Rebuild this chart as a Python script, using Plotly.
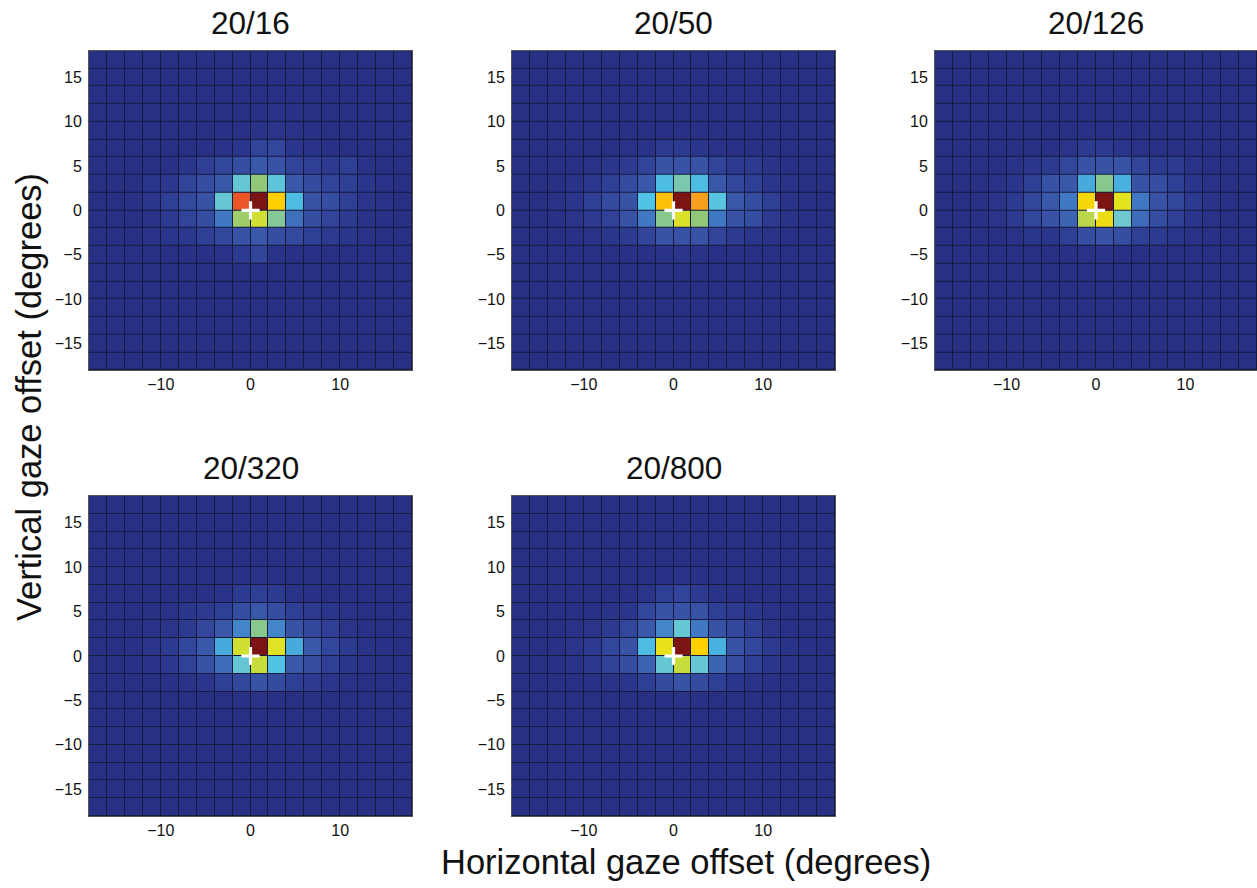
import plotly.graph_objects as go

# cell centres (degrees)
x_centers = [-17, -15, -13, -11, -9, -7, -5, -3, -1, 1, 3, 5, 7, 9, 11, 13, 15, 17]
y_centers = [17, 15, 13, 11, 9, 7, 5, 3, 1, -1, -3, -5, -7, -9, -11, -13, -15, -17]

titles = ["20/16", "20/50", "20/126", "20/320", "20/800"]
x_ticks = [-10, 0, 10]
y_ticks = [-15, -10, -5, 0, 5, 10, 15]

# gaze-density values (0-100), rows top (y=17) to bottom (y=-17)
z_20_16 = [
    [3, 3, 3, 3, 3, 3, 3, 3, 3, 3, 3, 3, 3, 3, 3, 3, 3, 3],
    [3, 3, 3, 3, 3, 3, 3, 3, 3, 3, 3, 3, 3, 3, 3, 3, 3, 3],
    [3, 3, 3, 3, 3, 3, 3, 3, 3, 3, 3, 3, 3, 3, 3, 3, 3, 3],
    [3, 3, 3, 3, 3, 3, 3, 3, 3, 4, 5, 4, 3, 3, 3, 3, 3, 3],
    [3, 3, 3, 3, 3, 3, 3, 4, 4, 6, 7, 5, 4, 3, 3, 3, 3, 3],
    [3, 3, 3, 3, 3, 3, 4, 5, 8, 14, 15, 8, 6, 4, 3, 3, 3, 3],
    [3, 3, 3, 3, 4, 8, 12, 15, 18, 22, 20, 14, 12, 10, 12, 6, 3, 3],
    [3, 3, 3, 8, 9, 14, 18, 22, 50, 60, 48, 22, 17, 14, 12, 8, 5, 3],
    [3, 3, 4, 8, 12, 16, 20, 50, 92, 100, 80, 43, 20, 18, 12, 7, 5, 3],
    [3, 3, 3, 6, 10, 14, 18, 30, 62, 70, 57, 28, 18, 14, 10, 6, 4, 3],
    [3, 3, 3, 6, 8, 9, 12, 15, 20, 22, 18, 16, 12, 10, 8, 5, 3, 3],
    [3, 3, 3, 3, 3, 4, 4, 5, 10, 14, 6, 4, 4, 3, 3, 3, 3, 3],
    [3, 3, 3, 3, 3, 3, 3, 3, 3, 4, 3, 3, 3, 3, 3, 3, 3, 3],
    [3, 3, 3, 3, 3, 3, 3, 3, 3, 3, 3, 3, 3, 3, 3, 3, 3, 3],
    [3, 3, 3, 3, 3, 3, 3, 3, 3, 3, 3, 3, 3, 3, 3, 3, 3, 3],
    [3, 3, 3, 3, 3, 3, 3, 3, 3, 3, 3, 3, 3, 3, 3, 3, 3, 3],
    [3, 3, 3, 3, 3, 3, 3, 3, 3, 3, 3, 3, 3, 3, 3, 3, 3, 3],
    [3, 3, 3, 3, 3, 3, 3, 3, 3, 3, 3, 3, 3, 3, 3, 3, 3, 3],
]

z_20_50 = [
    [3, 3, 3, 3, 3, 3, 3, 3, 3, 3, 3, 3, 3, 3, 3, 3, 3, 3],
    [3, 3, 3, 3, 3, 3, 3, 3, 3, 3, 3, 3, 3, 3, 3, 3, 3, 3],
    [3, 3, 3, 3, 3, 3, 3, 3, 3, 3, 3, 3, 3, 3, 3, 3, 3, 3],
    [3, 3, 3, 3, 3, 3, 3, 3, 3, 3, 3, 3, 3, 3, 3, 3, 3, 3],
    [3, 3, 3, 3, 3, 3, 3, 3, 4, 4, 4, 3, 3, 3, 3, 3, 3, 3],
    [3, 3, 3, 3, 3, 3, 5, 6, 10, 10, 8, 5, 4, 3, 3, 3, 3, 3],
    [3, 3, 3, 3, 5, 8, 10, 14, 20, 20, 20, 14, 10, 10, 6, 4, 3, 3],
    [3, 3, 3, 6, 9, 12, 17, 22, 43, 55, 43, 22, 15, 12, 8, 5, 3, 3],
    [3, 3, 5, 8, 12, 17, 20, 45, 82, 100, 86, 47, 22, 18, 12, 6, 4, 3],
    [3, 3, 4, 7, 10, 13, 20, 30, 58, 72, 60, 30, 20, 18, 10, 6, 4, 3],
    [3, 3, 3, 4, 6, 8, 10, 14, 20, 20, 20, 14, 10, 8, 6, 4, 3, 3],
    [3, 3, 3, 3, 3, 3, 4, 4, 6, 7, 6, 4, 3, 3, 3, 3, 3, 3],
    [3, 3, 3, 3, 3, 3, 3, 3, 3, 3, 3, 3, 3, 3, 3, 3, 3, 3],
    [3, 3, 3, 3, 3, 3, 3, 3, 3, 3, 3, 3, 3, 3, 3, 3, 3, 3],
    [3, 3, 3, 3, 3, 3, 3, 3, 3, 3, 3, 3, 3, 3, 3, 3, 3, 3],
    [3, 3, 3, 3, 3, 3, 3, 3, 3, 3, 3, 3, 3, 3, 3, 3, 3, 3],
    [3, 3, 3, 3, 3, 3, 3, 3, 3, 3, 3, 3, 3, 3, 3, 3, 3, 3],
    [3, 3, 3, 3, 3, 3, 3, 3, 3, 3, 3, 3, 3, 3, 3, 3, 3, 3],
]

z_20_126 = [
    [3, 3, 3, 3, 3, 3, 3, 3, 3, 3, 3, 3, 3, 3, 3, 3, 3, 3],
    [3, 3, 3, 3, 3, 3, 3, 3, 3, 3, 3, 3, 3, 3, 3, 3, 3, 3],
    [3, 3, 3, 3, 3, 3, 3, 3, 3, 3, 3, 3, 3, 3, 3, 3, 3, 3],
    [3, 3, 3, 3, 3, 3, 3, 3, 3, 3, 3, 3, 3, 3, 3, 3, 3, 3],
    [3, 3, 3, 3, 3, 3, 3, 3, 4, 4, 4, 3, 3, 3, 3, 3, 3, 3],
    [3, 3, 3, 3, 3, 3, 4, 7, 10, 10, 8, 5, 4, 3, 3, 3, 3, 3],
    [3, 3, 3, 3, 6, 8, 10, 15, 20, 20, 20, 14, 10, 10, 6, 4, 3, 3],
    [3, 3, 3, 5, 8, 12, 20, 22, 38, 58, 40, 20, 18, 12, 8, 5, 3, 3],
    [3, 3, 4, 7, 10, 15, 22, 30, 78, 100, 74, 30, 20, 15, 10, 6, 4, 3],
    [3, 3, 4, 7, 10, 15, 20, 25, 66, 76, 52, 27, 18, 12, 8, 5, 3, 3],
    [3, 3, 3, 3, 5, 8, 8, 12, 18, 20, 18, 12, 10, 8, 5, 4, 3, 3],
    [3, 3, 3, 3, 3, 3, 3, 4, 5, 6, 4, 3, 3, 3, 3, 3, 3, 3],
    [3, 3, 3, 3, 3, 3, 3, 3, 3, 3, 3, 3, 3, 3, 3, 3, 3, 3],
    [3, 3, 3, 3, 3, 3, 3, 3, 3, 3, 3, 3, 3, 3, 3, 3, 3, 3],
    [3, 3, 3, 3, 3, 3, 3, 3, 3, 3, 3, 3, 3, 3, 3, 3, 3, 3],
    [3, 3, 3, 3, 3, 3, 3, 3, 3, 3, 3, 3, 3, 3, 3, 3, 3, 3],
    [3, 3, 3, 3, 3, 3, 3, 3, 3, 3, 3, 3, 3, 3, 3, 3, 3, 3],
    [3, 3, 3, 3, 3, 3, 3, 3, 3, 3, 3, 3, 3, 3, 3, 3, 3, 3],
]

z_20_320 = [
    [3, 3, 3, 3, 3, 3, 3, 3, 3, 3, 3, 3, 3, 3, 3, 3, 3, 3],
    [3, 3, 3, 3, 3, 3, 3, 3, 3, 3, 3, 3, 3, 3, 3, 3, 3, 3],
    [3, 3, 3, 3, 3, 3, 3, 3, 3, 3, 3, 3, 3, 3, 3, 3, 3, 3],
    [3, 3, 3, 3, 3, 3, 3, 3, 3, 3, 3, 3, 3, 3, 3, 3, 3, 3],
    [3, 3, 3, 3, 3, 3, 3, 3, 4, 5, 4, 3, 3, 3, 3, 3, 3, 3],
    [3, 3, 3, 3, 3, 3, 4, 6, 10, 12, 10, 6, 4, 3, 3, 3, 3, 3],
    [3, 3, 3, 3, 5, 8, 10, 12, 18, 22, 18, 12, 10, 8, 5, 3, 3, 3],
    [3, 3, 3, 5, 7, 10, 15, 22, 32, 58, 32, 20, 15, 12, 7, 4, 3, 3],
    [3, 3, 4, 7, 10, 15, 22, 38, 70, 100, 73, 38, 22, 15, 10, 6, 4, 3],
    [3, 3, 4, 6, 9, 13, 20, 27, 50, 68, 45, 22, 18, 12, 8, 5, 3, 3],
    [3, 3, 3, 3, 4, 6, 8, 12, 15, 20, 17, 12, 10, 8, 5, 3, 3, 3],
    [3, 3, 3, 3, 3, 3, 3, 3, 4, 5, 4, 3, 3, 3, 3, 3, 3, 3],
    [3, 3, 3, 3, 3, 3, 3, 3, 3, 3, 3, 3, 3, 3, 3, 3, 3, 3],
    [3, 3, 3, 3, 3, 3, 3, 3, 3, 3, 3, 3, 3, 3, 3, 3, 3, 3],
    [3, 3, 3, 3, 3, 3, 3, 3, 3, 3, 3, 3, 3, 3, 3, 3, 3, 3],
    [3, 3, 3, 3, 3, 3, 3, 3, 3, 3, 3, 3, 3, 3, 3, 3, 3, 3],
    [3, 3, 3, 3, 3, 3, 3, 3, 3, 3, 3, 3, 3, 3, 3, 3, 3, 3],
    [3, 3, 3, 3, 3, 3, 3, 3, 3, 3, 3, 3, 3, 3, 3, 3, 3, 3],
]

z_20_800 = [
    [3, 3, 3, 3, 3, 3, 3, 3, 3, 3, 3, 3, 3, 3, 3, 3, 3, 3],
    [3, 3, 3, 3, 3, 3, 3, 3, 3, 3, 3, 3, 3, 3, 3, 3, 3, 3],
    [3, 3, 3, 3, 3, 3, 3, 3, 3, 3, 3, 3, 3, 3, 3, 3, 3, 3],
    [3, 3, 3, 3, 3, 3, 3, 3, 3, 3, 3, 3, 3, 3, 3, 3, 3, 3],
    [3, 3, 3, 3, 3, 3, 3, 3, 4, 5, 4, 3, 3, 3, 3, 3, 3, 3],
    [3, 3, 3, 3, 3, 3, 4, 7, 12, 14, 10, 6, 4, 3, 3, 3, 3, 3],
    [3, 3, 3, 3, 4, 6, 8, 15, 20, 20, 20, 12, 10, 8, 5, 3, 3, 3],
    [3, 3, 3, 5, 7, 10, 15, 22, 32, 50, 30, 20, 15, 12, 7, 4, 3, 3],
    [3, 3, 4, 7, 10, 15, 20, 43, 75, 100, 80, 40, 20, 15, 10, 6, 4, 3],
    [3, 3, 4, 6, 9, 13, 18, 25, 50, 68, 50, 25, 18, 12, 8, 5, 3, 3],
    [3, 3, 3, 3, 4, 6, 8, 12, 17, 20, 17, 12, 8, 6, 4, 3, 3, 3],
    [3, 3, 3, 3, 3, 3, 3, 3, 4, 5, 4, 3, 3, 3, 3, 3, 3, 3],
    [3, 3, 3, 3, 3, 3, 3, 3, 3, 3, 3, 3, 3, 3, 3, 3, 3, 3],
    [3, 3, 3, 3, 3, 3, 3, 3, 3, 3, 3, 3, 3, 3, 3, 3, 3, 3],
    [3, 3, 3, 3, 3, 3, 3, 3, 3, 3, 3, 3, 3, 3, 3, 3, 3, 3],
    [3, 3, 3, 3, 3, 3, 3, 3, 3, 3, 3, 3, 3, 3, 3, 3, 3, 3],
    [3, 3, 3, 3, 3, 3, 3, 3, 3, 3, 3, 3, 3, 3, 3, 3, 3, 3],
    [3, 3, 3, 3, 3, 3, 3, 3, 3, 3, 3, 3, 3, 3, 3, 3, 3, 3],
]

panels = [z_20_16, z_20_50, z_20_126, z_20_320, z_20_800]

colorscale = [
    [0.00, "rgb(38,44,125)"],
    [0.08, "rgb(42,54,140)"],
    [0.15, "rgb(50,70,155)"],
    [0.22, "rgb(58,88,170)"],
    [0.30, "rgb(65,120,195)"],
    [0.38, "rgb(70,170,220)"],
    [0.45, "rgb(80,195,230)"],
    [0.52, "rgb(110,200,205)"],
    [0.60, "rgb(145,200,120)"],
    [0.68, "rgb(200,220,60)"],
    [0.74, "rgb(228,228,30)"],
    [0.80, "rgb(255,208,0)"],
    [0.86, "rgb(248,160,30)"],
    [0.92, "rgb(235,85,40)"],
    [1.00, "rgb(125,20,20)"],
]

W, H = 1257, 888
# panel pixel boxes on the page (left, right, top, bottom)
boxes = [
    (89, 412, 50.7, 370),
    (512, 835, 50.7, 370),
    (935, 1257, 50.7, 370),
    (89, 412, 496, 816),
    (512, 835, 496, 816),
]


def px(v):
    return v / W


def py(v):
    return 1 - v / H


fig = go.Figure()
FONT = "Liberation Sans, Arial, Helvetica, sans-serif"

layout_axes = {}
annotations = []
for i, (z, (l, r, t, b)) in enumerate(zip(panels, boxes)):
    n = i + 1
    xa = "x" if n == 1 else f"x{n}"
    ya = "y" if n == 1 else f"y{n}"
    fig.add_trace(go.Heatmap(
        x=x_centers, y=y_centers, z=z, zmin=0, zmax=100,
        colorscale=colorscale, showscale=False, xgap=1, ygap=1,
        xaxis=xa, yaxis=ya, hoverinfo="skip",
    ))
    fig.add_trace(go.Scatter(
        x=[0], y=[0], mode="markers", xaxis=xa, yaxis=ya,
        marker=dict(symbol="cross-thin", size=13,
                    line=dict(color="white", width=3.2)),
        showlegend=False, hoverinfo="skip",
    ))
    key_x = "xaxis" if n == 1 else f"xaxis{n}"
    key_y = "yaxis" if n == 1 else f"yaxis{n}"
    layout_axes[key_x] = dict(
        domain=[px(l), min(px(r), 1.0)], anchor=ya, range=[-18, 18],
        tickvals=x_ticks, ticktext=["\u221210", "0", "10"],
        showgrid=False, zeroline=False, ticks="",
        showline=True, linecolor="#555", linewidth=1, mirror=True,
        tickfont=dict(family=FONT, size=16, color="#111"),
    )
    layout_axes[key_y] = dict(
        domain=[py(b), py(t)], anchor=xa, range=[-18, 18],
        tickvals=y_ticks,
        ticktext=["\u221215", "\u221210", "\u22125", "0", "5", "10", "15"],
        showgrid=False, zeroline=False, ticks="", ticklabelstandoff=3,
        showline=True, linecolor="#555", linewidth=1, mirror=True,
        tickfont=dict(family=FONT, size=16, color="#111"),
    )
    annotations.append(dict(
        text=titles[i], xref="paper", yref="paper",
        x=px((l + r) / 2), y=py(t - 28),
        xanchor="center", yanchor="middle", showarrow=False,
        font=dict(family=FONT, size=31.5, color="#111"),
    ))

annotations.append(dict(
    text="Horizontal gaze offset (degrees)", xref="paper", yref="paper",
    x=px(686), y=py(862), xanchor="center", yanchor="middle",
    showarrow=False, font=dict(family=FONT, size=34.5, color="#111"),
))
annotations.append(dict(
    text="Vertical gaze offset (degrees)", xref="paper", yref="paper",
    x=px(29), y=py(397), xanchor="center", yanchor="middle",
    textangle=-90, showarrow=False,
    font=dict(family=FONT, size=34.5, color="#111"),
))

fig.update_layout(
    width=W, height=H, margin=dict(l=0, r=0, t=0, b=0),
    paper_bgcolor="white", plot_bgcolor="rgb(22,26,60)",
    showlegend=False, annotations=annotations, **layout_axes,
)

# remove the default page margin so the figure fills the window exactly
fig.write_html(
    "out.html",
    config={"displayModeBar": False, "staticPlot": True},
    post_script="document.body.style.margin='0px';document.body.style.overflow='hidden';",
)
